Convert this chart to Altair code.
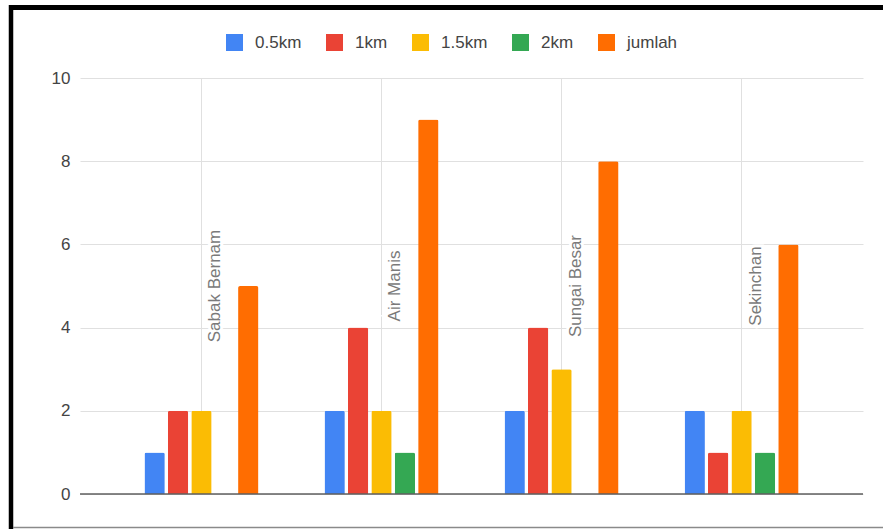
import altair as alt
import pandas as pd

categories = ["Sabak Bernam", "Air Manis", "Sungai Besar", "Sekinchan"]
series = ["0.5km", "1km", "1.5km", "2km", "jumlah"]
v_05 = [1, 2, 2, 2]
v_1 = [2, 4, 4, 1]
v_15 = [2, 2, 3, 2]
v_2 = [0, 1, 0, 1]
v_jumlah = [5, 9, 8, 6]
colors = ["#4285F4", "#EA4335", "#FBBC04", "#34A853", "#FF6D01"]
y_ticks = [0, 2, 4, 6, 8, 10]

rows = []
for s, vals in zip(series, [v_05, v_1, v_15, v_2, v_jumlah]):
    for c, v in zip(categories, vals):
        rows.append({"lokasi": c, "jarak": s, "nilai": v})
df = pd.DataFrame(rows)
cat_df = pd.DataFrame({"lokasi": categories})
one = pd.DataFrame({"k": [0]})

W, H = 783, 416
L = 80
FONT = "Liberation Sans"
GRID = "#e0e0e0"

x_scale = alt.Scale(domain=categories, paddingInner=0.367, paddingOuter=0.358)
y_scale = alt.Scale(domain=[0, 10], nice=False)
x_axis = alt.Axis(title=None, labels=False, ticks=False, domain=False, grid=True,
                  gridColor=GRID, bandPosition=0.5)
y_axis = alt.Axis(title=None, values=y_ticks, domain=False, ticks=False, grid=True,
                  labelPadding=10, labelFontSize=17, labelColor="#444", labelFont=FONT,
                  gridColor=GRID)

bars = alt.Chart(df).mark_bar(cornerRadiusTopLeft=2, cornerRadiusTopRight=2).encode(
    x=alt.X("lokasi:N", scale=x_scale, sort=categories, axis=x_axis),
    xOffset=alt.XOffset("jarak:N", scale=alt.Scale(domain=series, paddingInner=0.132, paddingOuter=0), sort=series),
    y=alt.Y("nilai:Q", scale=y_scale, axis=y_axis),
    color=alt.Color("jarak:N", scale=alt.Scale(domain=series, range=colors),
                    legend=alt.Legend(title=None, orient="none", legendX=146, legendY=-44,
                                      direction="horizontal", symbolType="square",
                                      symbolSize=289, symbolStrokeWidth=0, labelFontSize=17,
                                      labelColor="#444", labelFont=FONT, labelOffset=12,
                                      columnPadding=24, padding=0)),
)

label_enc = dict(
    x=alt.X("lokasi:N", scale=x_scale, sort=categories, axis=x_axis),
    y=alt.YDatum(5, axis=y_axis),
    text="lokasi:N",
)
mask = alt.Chart(cat_df).mark_text(angle=270, align="center", baseline="middle", fontSize=17,
                                   font=FONT, xOffset=14, fill="white", stroke="white",
                                   strokeWidth=6).encode(**label_enc)
labels = alt.Chart(cat_df).mark_text(angle=270, align="center", baseline="middle", fontSize=17,
                                     font=FONT, xOffset=14, color="#7a7a7a").encode(**label_enc)

baseline = alt.Chart(one).mark_rule(color="#5f5f5f", strokeWidth=1.5).encode(
    y=alt.YDatum(0, axis=y_axis), x=alt.value(0), x2=alt.value(W))

top_line = alt.Chart(one).mark_rule(color="black", strokeWidth=5).encode(
    x=alt.value(9 - L), x2=alt.value(883 - L), y=alt.value(-70.5))
left_line = alt.Chart(one).mark_rule(color="black", strokeWidth=4.5).encode(
    x=alt.value(11 - L), y=alt.value(-73), y2=alt.value(451))
bottom_line = alt.Chart(one).mark_rule(color="#8a8a8a", strokeWidth=1.5).encode(
    x=alt.value(13 - L), x2=alt.value(883 - L), y=alt.value(449.5))

chart = alt.layer(mask, labels, bars, baseline, top_line, left_line, bottom_line).properties(
    width=W, height=H, autosize="none",
    padding={"left": L, "top": 78, "right": 20, "bottom": 35},
    background="white",
).configure_view(stroke=None)

chart.save("out.html", embed_options={"renderer": "svg", "actions": False})
